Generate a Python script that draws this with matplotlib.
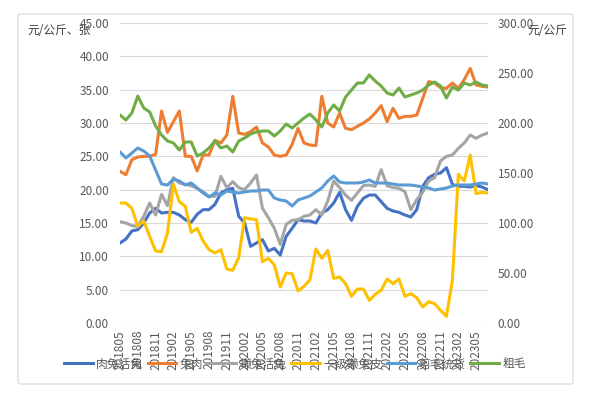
import matplotlib
matplotlib.use("Agg")
import matplotlib.pyplot as plt
from matplotlib.patches import FancyBboxPatch
from matplotlib.ticker import FormatStrFormatter

plt.rcParams['font.family'] = ['Noto Sans CJK SC', 'DejaVu Sans']

# 月份 201805 - 202307
months = []
for y in range(2018, 2024):
    for m in range(1, 13):
        ym = y * 100 + m
        if 201805 <= ym <= 202307:
            months.append(str(ym))

# 左轴 元/公斤、张
rou_tu_huo = [12, 12.6, 13.8, 14, 15, 16.5, 17.2, 16.5, 16.6, 16.6, 16.2, 15.5, 15.1, 16.3, 17, 17,
              17.8, 19.5, 20, 20.2, 16, 15, 11.5, 12, 12.5, 10.8, 11.2, 10.2, 13, 14.2, 15.5, 15.3,
              15.3, 15, 16.5, 17, 18, 19.6, 17, 15.4, 17.5, 18.7, 19.2, 19.2, 18.2, 17.2, 16.8, 16.6,
              16.2, 15.9, 17, 20.5, 21.8, 22.3, 22.5, 23.3, 20.8, 20.5, 20.5, 20.4, 20.6, 20.4, 20]
tu_rou = [22.75, 22.25, 24.5, 24.9, 25, 25, 25.3, 31.8, 28.6, 30.2, 31.8, 25, 25, 22.8, 25.2, 25.2,
          27.4, 27, 28.2, 34, 28.5, 28.3, 28.7, 29.4, 27, 26.4, 25.2, 25, 25.2, 26.8, 29.2, 27,
          26.7, 26.6, 34, 30, 29.4, 31.5, 29.2, 29, 29.5, 30, 30.6, 31.5, 32.6, 30.2, 32.2, 30.7,
          31, 31, 31.2, 33.7, 36.2, 36, 35.3, 35.2, 36, 35.2, 36.5, 38.2, 35.7, 35.5, 35.4]
ta_tu_huo = [15.2, 15, 14.6, 14.5, 16, 18, 16.2, 19.3, 17.6, 21.8, 21, 20.8, 20.6, 20.2, 19.7, 19,
             19, 22, 20.3, 21.2, 20.3, 20, 21, 22.2, 17.2, 15.8, 14.2, 11.8, 14.8, 15.4, 15.5, 16,
             16.2, 17, 16.2, 18.3, 21.3, 20.3, 19.2, 18.4, 19.5, 20.6, 20.7, 20.5, 23, 20.6, 20.3, 20.2,
             19.7, 17, 18.5, 19.6, 21.3, 21.8, 24.3, 25, 25.2, 26.2, 27, 28.2, 27.7, 28.2, 28.5]
ta_tu_pi = [18, 18, 17.2, 14.5, 15.3, 13, 10.8, 10.7, 13.5, 20.8, 18.2, 17.5, 13.6, 14.2, 12.3, 11,
            10.5, 11, 8.1, 7.9, 9.8, 15.8, 15.6, 15.5, 9.2, 9.7, 8.7, 5.4, 7.5, 7.4, 4.8, 5.5,
            6.5, 11.1, 9.7, 10.9, 6.7, 6.9, 5.9, 4, 5.1, 5.1, 3.4, 4.3, 4.9, 6.6, 5.9, 6.6,
            4, 4.4, 3.8, 2.4, 3.2, 2.9, 1.9, 1, 6.4, 22.3, 21.3, 25.2, 19.4, 19.6, 19.5]
# 右轴 元/公斤
jian_mao = [171, 165, 170, 175, 172, 167, 153, 139, 138, 144, 142, 138, 140, 135, 130, 126,
            130, 128, 132, 131, 130, 131, 132, 132, 133, 133, 125, 123, 122, 117, 123, 125,
            127, 131, 135, 142, 147, 141, 140, 140, 140, 141, 143, 140, 140, 140, 139, 138,
            138, 138, 137, 136, 135, 133, 134, 135, 137, 138, 138, 138, 139, 140, 139]
cu_mao = [208, 203, 210, 227, 215, 211, 197, 188, 182, 180, 173, 181, 181, 167, 170, 175,
          182, 175, 177, 171, 182, 185, 189, 191, 192, 192, 187, 192, 199, 195, 200, 205,
          209, 203, 196, 210, 218, 212, 226, 233, 240, 240, 248, 242, 237, 230, 228, 235,
          226, 228, 230, 233, 238, 241, 237, 225, 236, 233, 240, 238, 241, 238, 237]

x = list(range(len(months)))
W, H = 591, 397
fig = plt.figure(figsize=(W / 100, H / 100), dpi=100)

# 外框
fig.patches.append(FancyBboxPatch((18 / W, 1 - 384 / H), 555 / W, 370 / H,
                                  boxstyle="round,pad=0,rounding_size=0.004",
                                  transform=fig.transFigure, fill=False,
                                  edgecolor='#d9d9d9', linewidth=0.8))

ax = fig.add_axes([120 / W, 1 - 323 / H, 368 / W, 300 / H])
ax2 = ax.twinx()
tc = '#595959'
lw = 2.2

l1, = ax.plot(x, rou_tu_huo, color='#4472C4', lw=lw, label='肉兔活兔')
l2, = ax.plot(x, tu_rou, color='#ED7D31', lw=lw, label='兔肉')
l3, = ax.plot(x, ta_tu_huo, color='#A5A5A5', lw=lw, label='獭兔活兔')
l4, = ax.plot(x, ta_tu_pi, color='#FFC000', lw=lw, label='一级獭兔皮')
l5, = ax2.plot(x, jian_mao, color='#5B9BD5', lw=lw, label='剪毛统货')
l6, = ax2.plot(x, cu_mao, color='#70AD47', lw=lw, label='粗毛')

ax.set_ylim(0, 45)
ax.set_yticks(range(0, 46, 5))
ax2.set_ylim(0, 300)
ax2.set_yticks(range(0, 301, 50))
ax.yaxis.set_major_formatter(FormatStrFormatter('%.2f'))
ax2.yaxis.set_major_formatter(FormatStrFormatter('%.2f'))
ax.set_xlim(0, len(months) - 1)
ax.set_xticks(x[::3])
ax.set_xticklabels(months[::3], rotation=90)
ax.grid(axis='y', color='#d9d9d9', lw=0.8)
ax.set_axisbelow(True)

for a in (ax, ax2):
    for s in a.spines.values():
        s.set_visible(False)
    a.tick_params(length=0, labelsize=8.5, labelcolor=tc)
ax.tick_params(axis='y', pad=8)
ax.tick_params(axis='x', pad=5)
ax2.tick_params(axis='y', pad=7)

fig.text(27 / W, 1 - 30 / H, '元/公斤、张', fontsize=8.5, color='#404040', va='center', ha='left')
fig.text(527 / W, 1 - 30 / H, '元/公斤', fontsize=8.5, color='#404040', va='center', ha='left')

fig.legend(handles=[l1, l2, l3, l4, l5, l6], loc='center', ncol=6,
           bbox_to_anchor=(295 / W, 1 - 364 / H), frameon=False, fontsize=8.5,
           handlelength=2.4, handletextpad=0.3, columnspacing=0.4, labelcolor=tc)

fig.savefig('out.png', dpi=100)
